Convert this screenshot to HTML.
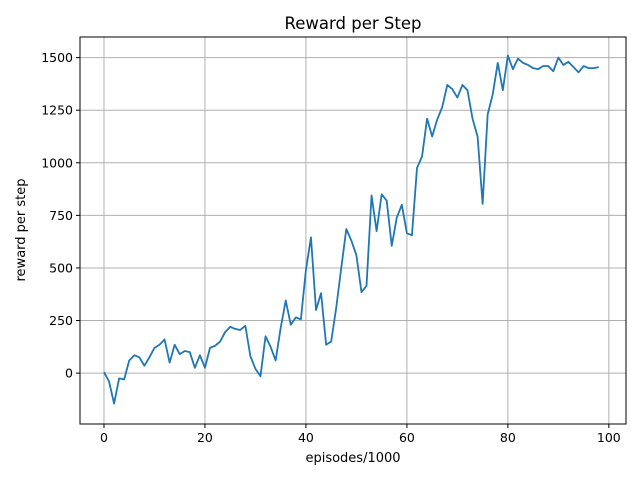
<!DOCTYPE html>
<html><head><meta charset="utf-8"><style>
body{margin:0;background:#fff;}
svg text{font-family:"DejaVu Sans","Liberation Sans",sans-serif;fill:#000;}
</style></head><body>
<svg id="chart" width="640" height="480" xmlns="http://www.w3.org/2000/svg">
<rect width="640" height="480" fill="#fff"/>
<g id="grid"></g>
<g id="ticks"></g>
<g id="series"></g>
<rect x="80" y="37" width="546" height="387" fill="none" stroke="#000" stroke-width="1"/>
<text x="353" y="29" font-size="16.5" text-anchor="middle">Reward per Step</text>
<text x="353" y="462" font-size="13" text-anchor="middle">episodes/1000</text>
<text transform="translate(25,230) rotate(-90)" font-size="13" text-anchor="middle">reward per step</text>
</svg>
<script>
const rewards = [5,-40,-145,-25,-30,60,85,75,35,75,120,135,160,50,135,90,105,100,25,85,25,120,130,150,195,220,210,205,225,80,20,-15,175,125,60,215,345,230,265,255,490,645,300,380,135,150,310,500,685,630,560,385,415,845,675,850,820,605,740,800,665,655,975,1030,1210,1125,1205,1265,1370,1350,1310,1370,1345,1210,1125,805,1230,1325,1475,1345,1510,1445,1495,1475,1465,1450,1445,1460,1460,1435,1500,1465,1480,1455,1430,1460,1450,1450,1455];
const xTicks = [0,20,40,60,80,100];
const yTicks = [0,250,500,750,1000,1250,1500];
const yTickLabels = ["0","250","500","750","1000","1250","1500"];

const L=80,R=626,T=37,B=424;
const xMin=-4.75,xMax=103.4,yMin=-242,yMax=1598;
function sx(v){return L+(v-xMin)/(xMax-xMin)*(R-L);}
function sy(v){return B-(v-yMin)/(yMax-yMin)*(B-T);}
const NS="http://www.w3.org/2000/svg";
const grid=document.getElementById('grid'),ticks=document.getElementById('ticks'),series=document.getElementById('series');
function mk(tag,attrs,parent){const e=document.createElementNS(NS,tag);for(const k in attrs)e.setAttribute(k,attrs[k]);parent.appendChild(e);return e;}
xTicks.forEach(t=>{
  const x=sx(t);
  const g=mk('line',{x1:x,x2:x,y1:T,y2:B,stroke:'#b0b0b0','stroke-width':1},grid);
  
  
  mk('line',{x1:x,x2:x,y1:B,y2:B+4,stroke:'#000'},ticks);
  const tx=mk('text',{x:x,y:B+18,'font-size':12.5,'text-anchor':'middle'},ticks);
  tx.textContent=t;
  
  
});
yTicks.forEach((t,i)=>{
  const y=sy(t);
  const g=mk('line',{x1:L,x2:R,y1:y,y2:y,stroke:'#b0b0b0','stroke-width':1},grid);
  
  
  mk('line',{x1:L-4,x2:L,y1:y,y2:y,stroke:'#000'},ticks);
  const tx=mk('text',{x:L-7,y:y+4.5,'font-size':12.5,'text-anchor':'end'},ticks);
  tx.textContent=yTickLabels[i];
  
  
});
const pts=rewards.map((v,i)=>sx(i).toFixed(2)+','+sy(v).toFixed(2)).join(' ');
const line=mk('polyline',{points:pts,fill:'none',stroke:'#1f77b4','stroke-width':1.8,'stroke-linejoin':'round'},series);


</script>
</body></html>
